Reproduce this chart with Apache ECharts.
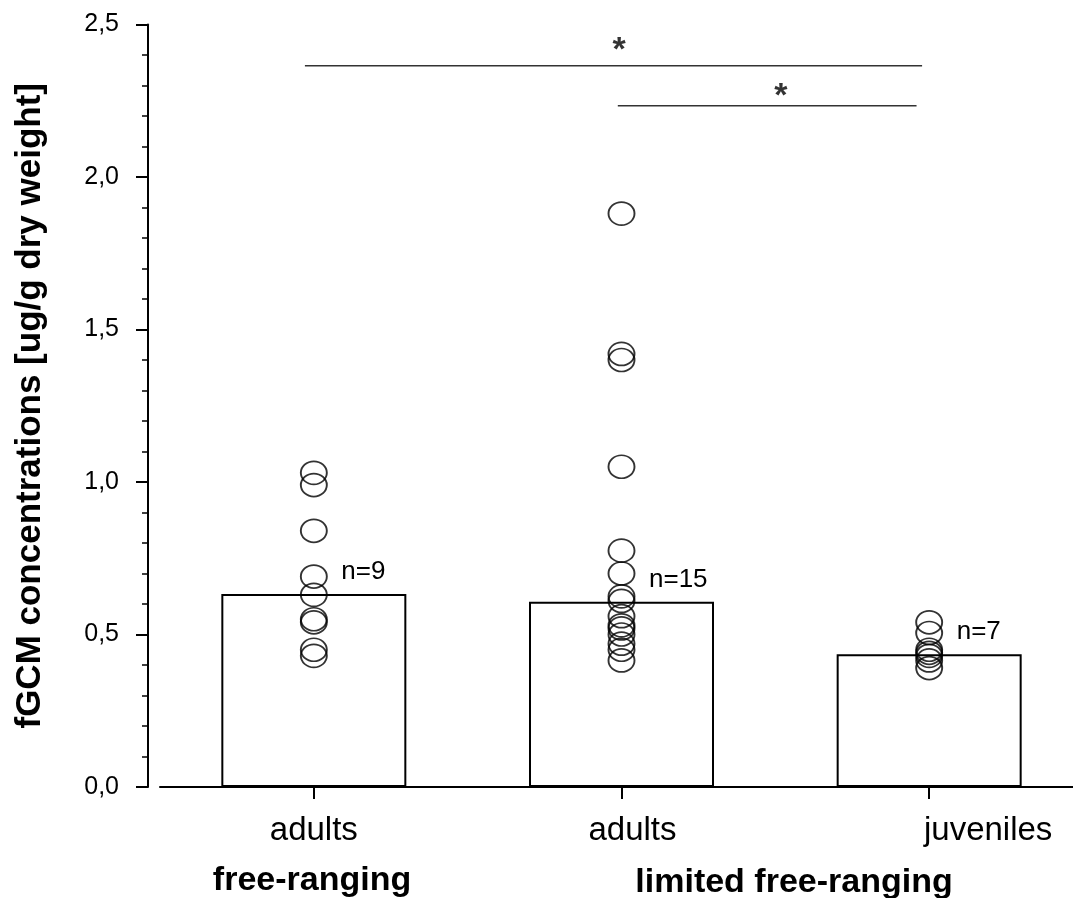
<!DOCTYPE html>
<html>
<head>
<meta charset="utf-8">
<script src="https://cdn.jsdelivr.net/npm/echarts@6/dist/echarts.min.js"></script>
<style>
  html, body { margin: 0; padding: 0; background: #fff; overflow: hidden; }
  #chart { width: 1090px; height: 898px; }
</style>
</head>
<body>
<div id="chart"></div>
<script>
// ---- data ----
const categories = ['adults', 'adults', 'juveniles'];
const groupLabels = ['free-ranging', 'limited free-ranging'];
const barMeans = [0.633, 0.607, 0.435];
const nLabels = ['n=9', 'n=15', 'n=7'];
const pointsFreeAdults = [1.03, 0.99, 0.84, 0.69, 0.63, 0.55, 0.54, 0.45, 0.43];
const pointsLimitedAdults = [1.88, 1.42, 1.40, 1.05, 0.775, 0.70, 0.625, 0.61, 0.56, 0.53, 0.52, 0.50, 0.47, 0.45, 0.415];
const pointsLimitedJuveniles = [0.54, 0.505, 0.45, 0.44, 0.43, 0.415, 0.39];
// significance brackets: [xStart, xEnd, y] in category-index units / data units
const sigLine1 = [-0.029, 1.977, 2.365];
const sigLine2 = [0.988, 1.959, 2.234];
// asterisk positions [x, y]
const sigStars = [[0.992, 2.413], [1.518, 2.262]];

const pointGroups = [pointsFreeAdults, pointsLimitedAdults, pointsLimitedJuveniles];
const scatterData = [];
pointGroups.forEach((g, i) => g.forEach(v => scatterData.push([i, v])));

const FONT = '"Liberation Sans", Arial, sans-serif';
const CAT_FS = 33;

const chart = echarts.init(document.getElementById('chart'), null, { renderer: 'canvas' });
chart.setOption({
  animation: false,
  backgroundColor: '#ffffff',
  grid: { left: 160, top: 24.5, width: 923, bottom: 111, containLabel: false },
  xAxis: [
    {
      type: 'category',
      data: categories,
      boundaryGap: true,
      axisLine: { show: true, onZero: false, lineStyle: { color: '#000', width: 2 } },
      axisTick: { show: true, alignWithLabel: true, length: 12, lineStyle: { color: '#000', width: 2 } },
      axisLabel: {
        margin: 27,
        color: '#000',
        fontFamily: FONT,
        fontSize: CAT_FS,
        formatter: (v, i) => '{c' + i + '|' + v + '}',
        rich: {
          c0: { fontSize: CAT_FS, fontFamily: FONT, color: '#000', padding: [0, 0, 0, 0] },
          c1: { fontSize: CAT_FS, fontFamily: FONT, color: '#000', padding: [0, 0, 0, 22] },
          c2: { fontSize: CAT_FS, fontFamily: FONT, color: '#000', padding: [0, 0, 0, 118] }
        }
      },
      splitLine: { show: false }
    },
    {
      type: 'value',
      min: -0.5,
      max: 2.5,
      show: false
    }
  ],
  yAxis: {
    type: 'value',
    min: 0,
    max: 2.5,
    interval: 0.5,
    offset: 12,
    name: 'fGCM concentrations [ug/g dry weight]',
    nameLocation: 'middle',
    nameGap: 100,
    nameRotate: 90,
    nameTextStyle: { fontFamily: FONT, fontSize: 35, fontWeight: 'bold', color: '#000' },
    axisLine: { show: true, onZero: false, lineStyle: { color: '#000', width: 2 } },
    axisTick: { show: true, length: 12, lineStyle: { color: '#000', width: 2 } },
    minorTick: { show: true, splitNumber: 5, length: 6, lineStyle: { color: '#000', width: 1.5 } },
    axisLabel: {
      margin: 29,
      color: '#000',
      fontFamily: FONT,
      fontSize: 25,
      formatter: v => v.toFixed(1).replace('.', ',')
    },
    splitLine: { show: false }
  },
  graphic: [
    { type: 'text', x: 312, y: 881, style: { text: groupLabels[0], font: 'bold 34px ' + FONT, fill: '#000', align: 'center', verticalAlign: 'middle' } },
    { type: 'text', x: 794, y: 883, style: { text: groupLabels[1], font: 'bold 34px ' + FONT, fill: '#000', align: 'center', verticalAlign: 'middle' } }
  ],
  series: [
    {
      type: 'bar',
      data: barMeans,
      barWidth: 185,
      itemStyle: { color: '#ffffff', borderColor: '#000', borderWidth: 2 },
      label: {
        show: true,
        position: [120, -35],
        align: 'left',
        verticalAlign: 'top',
        formatter: p => nLabels[p.dataIndex],
        fontFamily: FONT,
        fontSize: 26,
        color: '#000'
      },
      z: 2
    },
    {
      type: 'scatter',
      data: scatterData,
      symbol: 'circle',
      symbolSize: [26, 23],
      itemStyle: { color: 'rgba(0,0,0,0)', borderColor: '#000', borderWidth: 1.8 },
      z: 3
    },
    {
      type: 'line',
      xAxisIndex: 1,
      data: [[sigLine1[0], sigLine1[2]], [sigLine1[1], sigLine1[2]]],
      symbol: 'none',
      lineStyle: { color: '#333', width: 1.5 },
      z: 3
    },
    {
      type: 'line',
      xAxisIndex: 1,
      data: [[sigLine2[0], sigLine2[2]], [sigLine2[1], sigLine2[2]]],
      symbol: 'none',
      lineStyle: { color: '#333', width: 1.5 },
      z: 3
    },
    {
      type: 'scatter',
      xAxisIndex: 1,
      data: sigStars,
      symbolSize: 1,
      itemStyle: { color: 'rgba(0,0,0,0)' },
      label: {
        show: true,
        position: 'inside',
        formatter: '*',
        fontFamily: FONT,
        fontWeight: 'bold',
        fontSize: 34,
        color: '#000'
      },
      z: 4
    }
  ]
});
</script>
</body>
</html>
